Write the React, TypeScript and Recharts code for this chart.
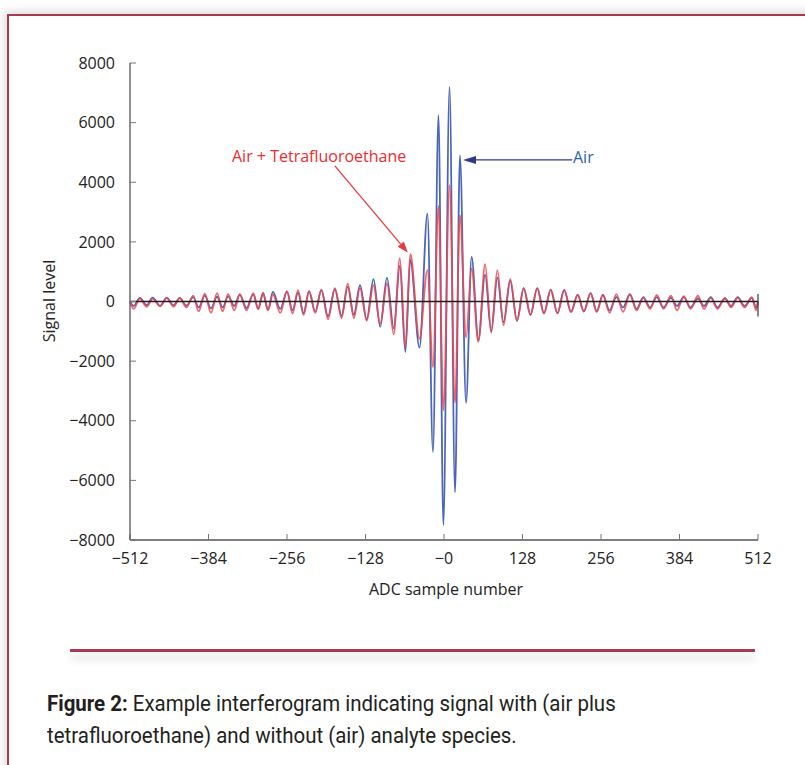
import { LineChart, Line, XAxis, YAxis, ReferenceLine } from 'recharts';

// extrema positions (ADC sample number)
const sampleNumbers = [
  -512, -506, -496, -485, -475, -463, -452, -441, -431, -420, -409, -400, -390, -380, -370, -361,
  -352, -342, -333, -322, -311, -303, -295, -287, -279, -267, -256, -247, -238, -229, -220, -210,
  -200, -189, -178, -167, -157, -147, -137, -126, -115, -104, -93, -82, -72, -63, -55, -40,
  -27, -18, -9, -1, 9, 18, 26, 36, 45, 56, 67, 77, 87, 97, 108, 119,
  130, 141, 152, 163, 174, 185, 196, 207, 218, 228, 239, 249, 259, 270, 281, 292,
  303, 314, 325, 336, 347, 358, 370, 380, 391, 402, 414, 424, 435, 446, 458, 468,
  479, 490, 502, 509, 512,
];

// Air
const airSignal = [
  0, -150, 120, -120, 130, -150, 120, -130, 110, -140, 150, -200, 200, -230, 160, -200,
  170, -150, 230, -220, 250, -240, 260, -280, 320, -250, 330, -300, 300, -400, 350, -350,
  380, -500, 420, -480, 500, -450, 550, -600, 750, -850, 800, -900, 1200, -1700, 1400, -1550,
  2950, -5050, 6250, -7500, 7200, -6400, 4900, -3400, 1500, -1300, 900, -1000, 800, -700, 700, -650,
  450, -450, 450, -400, 390, -390, 390, -350, 220, -335, 280, -335, 220, -300, 150, -200,
  250, -250, 150, -200, 150, -200, 120, -150, 150, -200, 100, -150, 150, -200, 100, -150,
  150, -150, 120, -200, 0,
];

// Air + Tetrafluoroethane
const mixSignal = [
  0, -250, 100, -180, 90, -150, 120, -170, 120, -200, 200, -330, 260, -380, 280, -330,
  250, -300, 250, -300, 270, -260, 300, -300, 230, -380, 350, -400, 380, -450, 350, -380,
  400, -600, 450, -560, 600, -560, 450, -650, 550, -750, 600, -1100, 1450, -1550, 1600, -1250,
  1050, -2200, 3200, -3650, 3900, -3400, 2900, -1200, 1100, -1350, 1250, -1050, 1050, -800, 750, -650,
  450, -450, 450, -400, 400, -400, 380, -350, 220, -330, 280, -350, 220, -380, 250, -350,
  230, -300, 120, -250, 220, -250, 200, -300, 180, -250, 200, -250, 120, -250, 120, -200,
  120, -200, 150, -300, 0,
];

const xTicks = [-512, -384, -256, -128, 0, 128, 256, 384, 512];
const yTicks = [-8000, -6000, -4000, -2000, 0, 2000, 4000, 6000, 8000];

const mixArrow = [{ x: -178, y: 4550 }, { x: -59, y: 1640 }];
const airArrow = [{ x: 209, y: 4750 }, { x: 31, y: 4750 }];

const data = sampleNumbers.map((sample, i) => ({
  sample,
  air: airSignal[i],
  mix: mixSignal[i],
}));

const axisFont = "'Open Sans', sans-serif";
const captionFont = "'Roboto', sans-serif";
const frameColor = '#a63a55';

const minus = (v: number) => (v < 0 ? `\u2212${Math.abs(v)}` : `${v}`);

function arrowShape(color: string, head: number, width: number) {
  return (props: any) => {
    const { x1, y1, x2, y2 } = props;
    const ang = Math.atan2(y2 - y1, x2 - x1);
    const bx = x2 - head * Math.cos(ang);
    const by = y2 - head * Math.sin(ang);
    const nx = -Math.sin(ang) * width;
    const ny = Math.cos(ang) * width;
    return (
      <g>
        <line x1={x1} y1={y1} x2={bx} y2={by} stroke={color} strokeWidth={1.3} />
        <polygon points={`${x2},${y2} ${bx + nx},${by + ny} ${bx - nx},${by - ny}`} fill={color} />
      </g>
    );
  };
}

export default function App() {
  return (
    <div
      style={{
        position: 'absolute',
        left: 0,
        top: 0,
        width: 805,
        height: 765,
        overflow: 'hidden',
        background: '#fff',
        fontFamily: axisFont,
      }}
    >
      <div
        style={{
          position: 'absolute',
          left: 7,
          top: 14,
          width: 840,
          height: 800,
          border: `2.5px solid ${frameColor}`,
          boxShadow: '0 0 9px 2px rgba(0,0,0,0.16)',
          background: '#fff',
        }}
      />

      <div style={{ position: 'absolute', left: 0, top: 0 }}>
        <LineChart width={805} height={620} data={data} margin={{ top: 63, right: 47, left: 50, bottom: 50 }}>
          <XAxis
            type="number"
            dataKey="sample"
            domain={[-512, 512]}
            ticks={xTicks}
            interval={0}
            tickFormatter={(v: number) => (v === 0 ? '\u22120' : minus(v))}
            tickSize={-6}
            tickMargin={19}
            height={30}
            axisLine={{ stroke: '#555', strokeWidth: 1.3 }}
            tickLine={{ stroke: '#777' }}
            tick={{ fill: '#222', fontSize: 16, fontFamily: axisFont }}
          />
          <YAxis
            type="number"
            domain={[-8000, 8000]}
            ticks={yTicks}
            interval={0}
            tickFormatter={minus}
            tickSize={-6}
            tickMargin={21}
            width={80}
            axisLine={{ stroke: '#555', strokeWidth: 1.3 }}
            tickLine={{ stroke: '#777' }}
            tick={{ fill: '#222', fontSize: 16, fontFamily: axisFont }}
            allowDataOverflow
          />
          <Line
            type="monotone"
            dataKey="air"
            stroke="#4b66b8"
            strokeWidth={1.8}
            dot={false}
            isAnimationActive={false}
          />
          <Line
            type="monotone"
            dataKey="mix"
            stroke="#f0474f"
            strokeOpacity={0.85}
            strokeWidth={1.8}
            dot={false}
            isAnimationActive={false}
          />
          <ReferenceLine y={0} stroke="#1e1e1e" strokeWidth={1.4} />
          <ReferenceLine segment={[{ x: 512, y: 250 }, { x: 512, y: -500 }]} stroke="#444" strokeWidth={1.3} />
          <ReferenceLine segment={mixArrow} shape={arrowShape('#e83a3f', 11, 4)} />
          <ReferenceLine segment={airArrow} shape={arrowShape('#2d3a8c', 13, 4)} />
        </LineChart>
      </div>

      <div style={{ position: 'absolute', left: 232, top: 145, fontSize: 16, color: '#ee2b30', whiteSpace: 'nowrap' }}>
        Air + Tetrafluoroethane
      </div>
      <div style={{ position: 'absolute', left: 573, top: 146, fontSize: 16, color: '#2e5fb3' }}>Air</div>

      <div
        style={{
          position: 'absolute',
          left: 49,
          top: 301,
          transform: 'translate(-50%, -50%) rotate(-90deg)',
          fontSize: 16,
          color: '#222',
          whiteSpace: 'nowrap',
        }}
      >
        Signal level
      </div>
      <div
        style={{
          position: 'absolute',
          left: 446,
          top: 589,
          transform: 'translate(-50%, -50%)',
          fontSize: 16,
          color: '#222',
          whiteSpace: 'nowrap',
        }}
      >
        ADC sample number
      </div>

      <div
        style={{
          position: 'absolute',
          left: 70,
          top: 649,
          width: 685,
          height: 2.5,
          background: frameColor,
          boxShadow: '0 7px 9px rgba(0,0,0,0.18)',
        }}
      />

      <div
        style={{
          position: 'absolute',
          left: 47,
          top: 688,
          width: 800,
          fontSize: 22,
          lineHeight: '32px',
          color: '#231f20',
          fontFamily: captionFont,
          whiteSpace: 'nowrap',
          transform: 'scaleX(0.93)',
          transformOrigin: 'left top',
        }}
      >
        <b>Figure 2:</b> Example interferogram indicating signal with (air plus
        <br />
        tetrafluoroethane) and without (air) analyte species.
      </div>
    </div>
  );
}
